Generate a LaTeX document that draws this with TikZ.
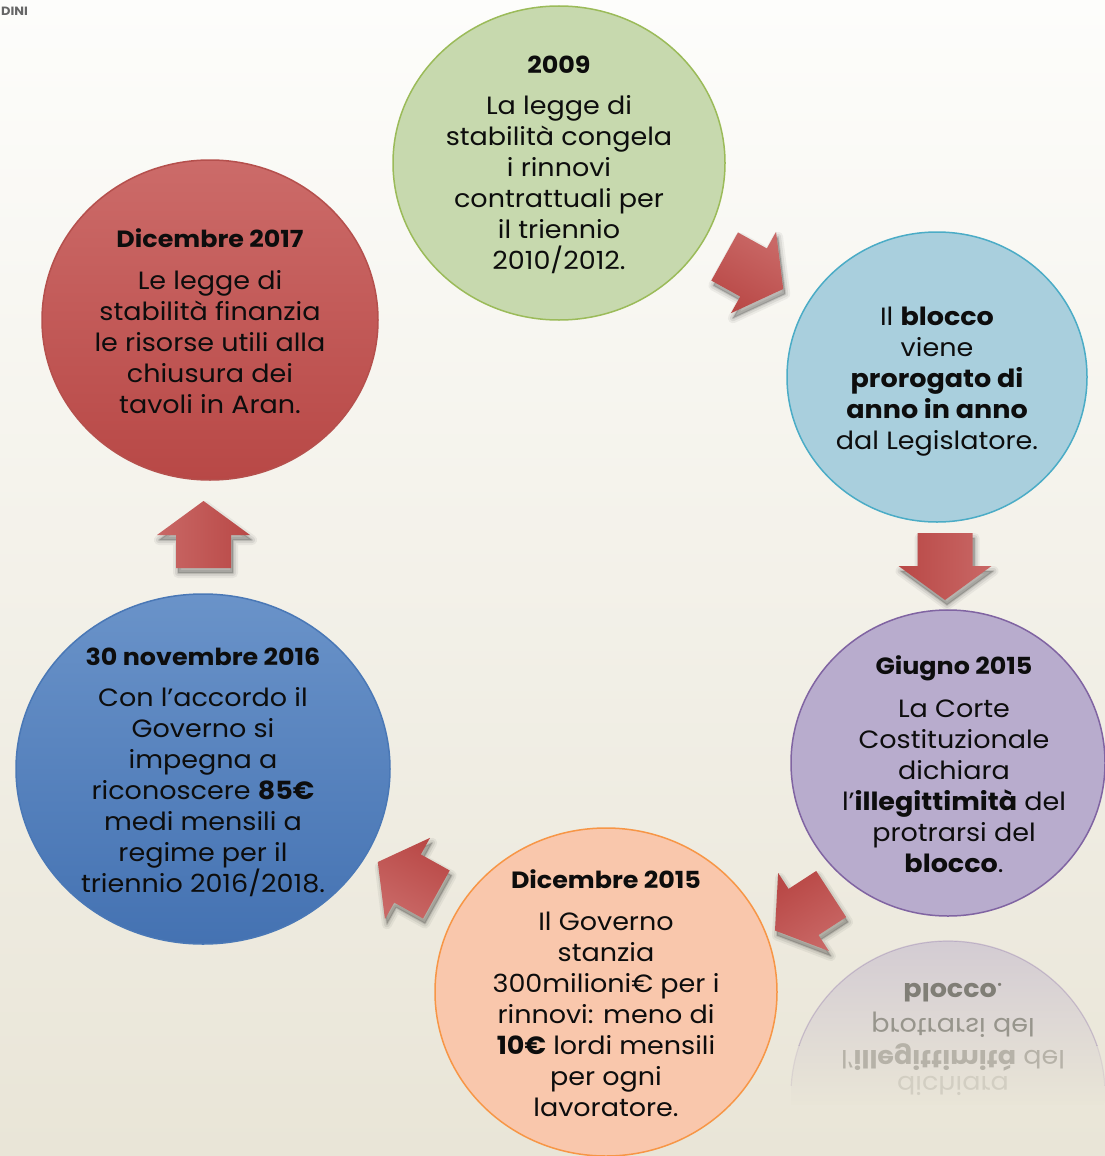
\documentclass[tikz,border=0pt]{standalone}
\usepackage{fontspec}
\setmainfont{Poppins}[FakeStretch=1.08]
\usepackage{graphicx}
\usetikzlibrary{shapes.geometric}

\definecolor{bgtop}{HTML}{FDFDFB}
\definecolor{bgbot}{HTML}{E9E5D7}
\definecolor{grfill}{HTML}{C7D9AE}
\definecolor{grline}{HTML}{9BBB59}
\definecolor{lbfill}{HTML}{A9CFDD}
\definecolor{lbline}{HTML}{4BACC6}
\definecolor{pufill}{HTML}{B8ACCD}
\definecolor{puline}{HTML}{8064A2}
\definecolor{orfill}{HTML}{F9C7AC}
\definecolor{orline}{HTML}{F79646}
\definecolor{butop}{HTML}{6A93C9}
\definecolor{bubot}{HTML}{4472B2}
\definecolor{buline}{HTML}{4A78B6}
\definecolor{retop}{HTML}{CC6B69}
\definecolor{rebot}{HTML}{B84846}
\definecolor{reline}{HTML}{B5504D}
\definecolor{arlight}{HTML}{C96866}
\definecolor{ardark}{HTML}{B94846}
\definecolor{txt}{HTML}{0D0D0D}

\tikzset{
  bubble/.style={ellipse, inner sep=0pt, line width=1.5pt},
  bodytext/.style={align=center, inner sep=0pt, text=txt,
    font=\fontsize{25}{31}\selectfont},
  titletext/.style={inner sep=0pt, text=txt,
    font=\bfseries\fontsize{23.5}{28}\selectfont},
  refltext/.style={inner sep=0pt, font=\fontsize{25}{31}\selectfont},
  arrowshape/.style={line join=miter},
}

\newcommand{\arrowpoly}{(-33,27.5) -- (0,27.5) -- (0,46.5) -- (34,0) -- (0,-46.5) -- (0,-27.5) -- (-33,-27.5) -- cycle}
\newcommand{\blockarrow}[3]{%
  \begin{scope}[shift={({#1+2},{#2-5})}, rotate=#3]
    \foreach \w/\o in {10/0.05, 6/0.07, 2/0.10}{
      \filldraw[black, opacity=\o, line width=\w pt, line join=round] \arrowpoly;
    }
  \end{scope}
  \begin{scope}[shift={(#1,#2)}, rotate=#3]
    \shade[arrowshape, top color=arlight, bottom color=ardark, shading angle=#3] \arrowpoly;
  \end{scope}}

\begin{document}
\begin{tikzpicture}[x=1pt, y=1pt]
\useasboundingbox (0,0) rectangle (1105,-1156);
\shade[top color=bgtop, bottom color=bgbot] (0,0) rectangle (1105,-1156);

\node[anchor=west, inner sep=0pt, text=black!60, font=\bfseries\fontsize{12}{14}\selectfont] (hdr) at (1,-11) {DINI};

% reflection of the purple circle
\begin{scope}
  \clip (948,-1094) ellipse [x radius=157, y radius=153];
  \shade[top color=pufill!45!bgbot, bottom color=bgbot] (788,-939) rectangle (1108,-1104);
\end{scope}
\begin{scope}
  \clip (780,-935) rectangle (1108,-1045);
  \draw[puline, opacity=0.3, line width=1.2pt] (948,-1094) ellipse [x radius=157, y radius=153];
\end{scope}
\begin{scope}
  \clip (780,-1045) rectangle (1108,-1085);
  \draw[puline, opacity=0.12, line width=1.2pt] (948,-1094) ellipse [x radius=157, y radius=153];
\end{scope}
\node[refltext, text=black!45!bgbot] (r1) at (953,-993) {\scalebox{1}[-1]{\textbf{blocco}.}};
\node[refltext, text=black!35!bgbot] (r2) at (953,-1025) {\scalebox{1}[-1]{protrarsi del}};
\node[refltext, text=black!22!bgbot] (r3) at (953,-1057) {\scalebox{1}[-1]{l’\textbf{illegittimità} del}};
\node[refltext, text=black!10!bgbot] (r4) at (953,-1086) {\scalebox{1}[-1]{dichiara}};

% circles
\node[bubble, draw=grline, fill=grfill, minimum width=332pt, minimum height=314pt] (c1) at (559,-163) {};
\node[bubble, draw=lbline, fill=lbfill, minimum width=300pt, minimum height=290pt] (c2) at (937,-377) {};
\node[bubble, draw=puline, fill=pufill, minimum width=314pt, minimum height=306pt] (c3) at (948,-763) {};
\node[bubble, draw=orline, fill=orfill, minimum width=342pt, minimum height=328pt] (c4) at (606,-992) {};
\node[bubble, draw=buline, top color=butop, bottom color=bubot, minimum width=374pt, minimum height=350pt] (c5) at (203,-769) {};
\node[bubble, draw=reline, top color=retop, bottom color=rebot, minimum width=336pt, minimum height=320pt] (c6) at (210,-320) {};

% texts
\node[titletext] (t1) at (559,-65) {2009};
\node[bodytext] (b1) at (559,-185) {La legge di\\stabilità congela\\i rinnovi\\contrattuali per\\il triennio\\2010/2012.};

\node[bodytext] (b2) at (937,-381.5) {Il \textbf{blocco}\\viene\\\textbf{prorogato di}\\\textbf{anno in anno}\\dal Legislatore.};

\node[titletext] (t3) at (954,-668) {Giugno 2015};
\node[bodytext] (b3) at (954,-786) {La Corte\\Costituzionale\\dichiara\\l’\textbf{illegittimità} del\\protrarsi del\\\textbf{blocco}.};

\node[titletext] (t4) at (606,-879) {Dicembre 2015};
\node[bodytext] (b4) at (606,-1014) {Il Governo\\stanzia\\300milioni€ per i\\rinnovi: meno di\\\textbf{10€} lordi mensili\\per ogni\\lavoratore.};

\node[titletext] (t5) at (203,-657) {30 novembre 2016};
\node[bodytext] (b5) at (203,-792) {Con l’accordo il\\Governo si\\impegna a\\riconoscere \textbf{85€}\\medi mensili a\\regime per il\\triennio 2016/2018.};

\node[titletext] (t6) at (210,-238) {Dicembre 2017};
\node[bodytext] (b6) at (210,-342.5) {Le legge di\\stabilità finanzia\\le risorse utili alla\\chiusura dei\\tavoli in Aran.};

% block arrows
\blockarrow{753.5}{-272.5}{-29}
\blockarrow{945}{-566}{-90}
\blockarrow{803.5}{-912}{-147}
\blockarrow{407.5}{-878.5}{151}
\blockarrow{203.5}{-535}{90}
\end{tikzpicture}
\end{document}
